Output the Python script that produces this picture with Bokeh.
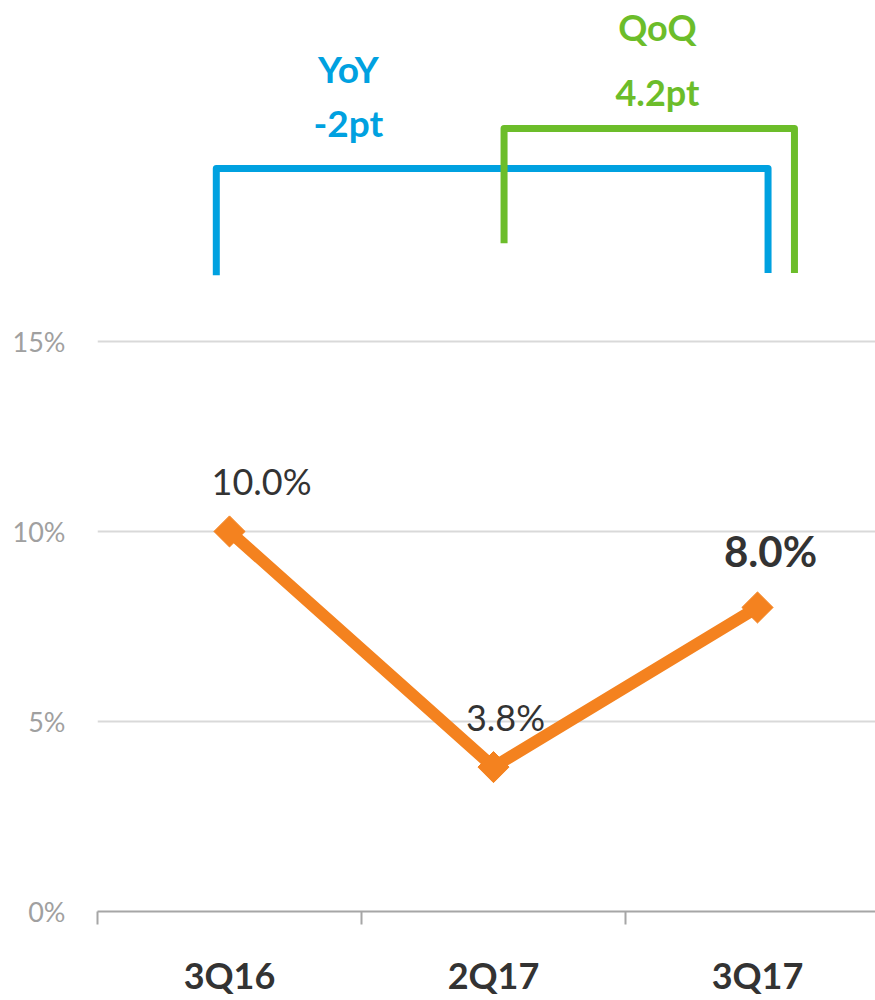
import math
from bokeh.plotting import figure
from bokeh.models import Range1d, FixedTicker, ColumnDataSource
from bokeh.core.properties import value
from bokeh.embed import file_html
from bokeh.resources import INLINE

# ---- data ----
categories = ["3Q16", "2Q17", "3Q17"]
rates = [10.0, 3.8, 8.0]
value_labels = ["10.0%", "3.8%", "8.0%"]
y_ticks = [0, 5, 10, 15]
y_tick_labels = ["0%", "5%", "10%", "15%"]
yoy_text = ["YoY", "-2pt"]
qoq_text = ["QoQ", "4.2pt"]

FONT = "Lato"
ORANGE = "#F4821F"
BLUE = "#00A1E0"
GREEN = "#6CBD2A"
DARK = "#333333"

xs = list(range(len(categories)))

W, H = 875, 1000
p = figure(width=W, height=H, output_backend="svg", toolbar_location=None,
           x_range=Range1d(-0.5, 2.447), y_range=Range1d(0, 23.97),
           min_border_left=97, min_border_right=0, min_border_top=0, min_border_bottom=89)
p.outline_line_color = None
p.background_fill_color = "white"

# y axis
p.yaxis.ticker = FixedTicker(ticks=y_ticks)
p.yaxis.major_label_overrides = {t: l for t, l in zip(y_ticks, y_tick_labels)}
p.yaxis.axis_line_color = None
p.yaxis.major_tick_line_color = None
p.yaxis.minor_tick_line_color = None
p.yaxis.major_label_standoff = 26
p.yaxis.major_label_text_font = FONT
p.yaxis.major_label_text_font_size = "27px"
p.yaxis.major_label_text_color = "#A0A0A0"

p.ygrid.ticker = FixedTicker(ticks=y_ticks)
p.ygrid.grid_line_color = "#D9D9D9"
p.ygrid.grid_line_width = 2
p.xgrid.grid_line_color = None

# x axis
p.xaxis.ticker = FixedTicker(ticks=xs, minor_ticks=[i - 0.5 for i in range(len(categories) + 1)])
p.xaxis.major_label_overrides = {i: c for i, c in enumerate(categories)}
p.xaxis.major_tick_line_color = None
p.xaxis.major_tick_out = 0
p.xaxis.major_tick_in = 0
p.xaxis.minor_tick_out = 13
p.xaxis.minor_tick_in = 0
p.xaxis.minor_tick_line_color = "#A6A6A6"
p.xaxis.minor_tick_line_width = 2
p.xaxis.axis_line_color = "#A6A6A6"
p.xaxis.axis_line_width = 2
p.xaxis.major_label_standoff = 28
p.xaxis.major_label_text_font = FONT
p.xaxis.major_label_text_font_size = "36px"
p.xaxis.major_label_text_font_style = "bold"
p.xaxis.major_label_text_color = DARK

# main line
p.line(xs, rates, line_color=ORANGE, line_width=12)
p.scatter(xs, rates, marker="square", angle=math.pi / 4, size=22,
          fill_color=ORANGE, line_color=ORANGE)

# value labels
lab_src = ColumnDataSource(dict(x=xs[:2], y=rates[:2], t=value_labels[:2],
                                dx=[32, 12], dy=[-50, -50]))
p.text(x="x", y="y", text="t", x_offset="dx", y_offset="dy", source=lab_src,
       text_font=value(FONT), text_font_size="36px", text_color=DARK,
       text_align="center", text_baseline="middle")
p.text(x=[xs[2]], y=[rates[2]], text=[value_labels[2]], x_offset=13, y_offset=-56,
       text_font=value(FONT), text_font_size="42px", text_font_style="bold",
       text_color=DARK, text_align="center", text_baseline="middle")

# brackets (YoY: first -> last, QoQ: previous -> last)
a, b, c = xs[0], xs[1], xs[2]
p.line([a - 0.05, a - 0.05, c + 0.04, c + 0.04], [16.74, 19.55, 19.55, 16.8],
       line_color=BLUE, line_width=7, line_join="round")
p.line([b + 0.04, b + 0.04, c + 0.14, c + 0.14], [17.58, 20.6, 20.6, 16.8],
       line_color=GREEN, line_width=7, line_join="round")

p.text(x=[a + 0.45, a + 0.45], y=[22.18, 20.75], text=yoy_text,
       text_font=value(FONT), text_font_size="37px", text_font_style="bold",
       text_color=BLUE, text_align="center", text_baseline="middle")
p.text(x=[b + 0.621, b + 0.621], y=[23.26, 21.55], text=qoq_text,
       text_font=value(FONT), text_font_size="36px", text_font_style="bold",
       text_color=GREEN, text_align="center", text_baseline="middle")

open("out.html", "w").write(file_html(p, INLINE))
